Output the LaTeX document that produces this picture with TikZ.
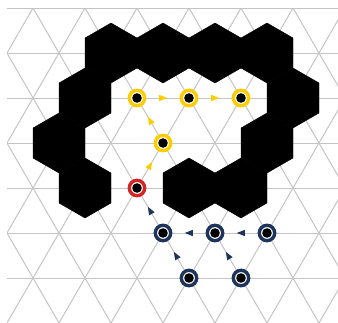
\documentclass[tikz,border=0pt]{standalone}
\usetikzlibrary{decorations.markings}
\definecolor{gridc}{RGB}{196,196,196}
\definecolor{ycol}{RGB}{255,204,0}
\definecolor{rcol}{RGB}{212,36,38}
\definecolor{bcol}{RGB}{30,52,92}
\begin{document}
\begin{tikzpicture}[x=1pt,y=-1pt,
  gridline/.style={draw=gridc, line width=1pt},
  cell/.style={fill=black, draw=black, line width=0.4pt},
  dot/.style={circle, inner sep=0pt, minimum size=15.4pt, line width=3.4pt, fill=white,
    path picture={\fill[black] (path picture bounding box.center) circle (4.8pt);}},
  ynode/.style={dot, draw=ycol},
  rnode/.style={dot, draw=rcol},
  bnode/.style={dot, draw=bcol},
  flow/.style={postaction={decorate, decoration={markings,
    mark=at position 0.5 with {\fill[#1] (4.2pt,0pt) -- (-3.8pt,3.2pt) -- (-3.8pt,-3.2pt) -- cycle;}}}}
]
\useasboundingbox (0,0) rectangle (338,322);
% triangular grid
\begin{scope}
  \clip (7,8) rectangle (338,322);
  \foreach \r in {0,...,6} \draw[gridline] (0,{8+45*\r}) -- (338,{8+45*\r});
  \foreach \k in {-4,...,6} \draw[gridline] ({33+52*\k},8) -- ++(208,360);
  \foreach \k in {0,...,10} \draw[gridline] ({33+52*\k},8) -- ++(-208,360);
\end{scope}
% black hexagonal cells
\foreach \c/\r in {4/1,6/1,8/1,10/1,3/2,11/2,2/3,10/3,3/4,7/4,9/4}
  \path[cell] ({7+26*\c},{8+45*\r}) ++(0,-30) -- ++(26,15) -- ++(0,30) -- ++(-26,15)
    -- ++(-26,-15) -- ++(0,-30) -- cycle;
% nodes
\node[ynode] (y1) at (137,98) {};
\node[ynode] (y2) at (189,98) {};
\node[ynode] (y3) at (241,98) {};
\node[ynode] (y4) at (163,143) {};
\node[rnode] (r)  at (137,188) {};
\node[bnode] (b1) at (163,233) {};
\node[bnode] (b2) at (215,233) {};
\node[bnode] (b3) at (267,233) {};
\node[bnode] (b4) at (189,278) {};
\node[bnode] (b5) at (241,278) {};
% flow arrows
\path[flow=ycol] (y1) -- (y2);
\path[flow=ycol] (y2) -- (y3);
\path[flow=ycol] (y4) -- (y1);
\path[flow=ycol] (r) -- (y4);
\path[flow=bcol] (b1) -- (r);
\path[flow=bcol] (b2) -- (b1);
\path[flow=bcol] (b3) -- (b2);
\path[flow=bcol] (b4) -- (b1);
\path[flow=bcol] (b5) -- (b2);
\end{tikzpicture}
\end{document}
